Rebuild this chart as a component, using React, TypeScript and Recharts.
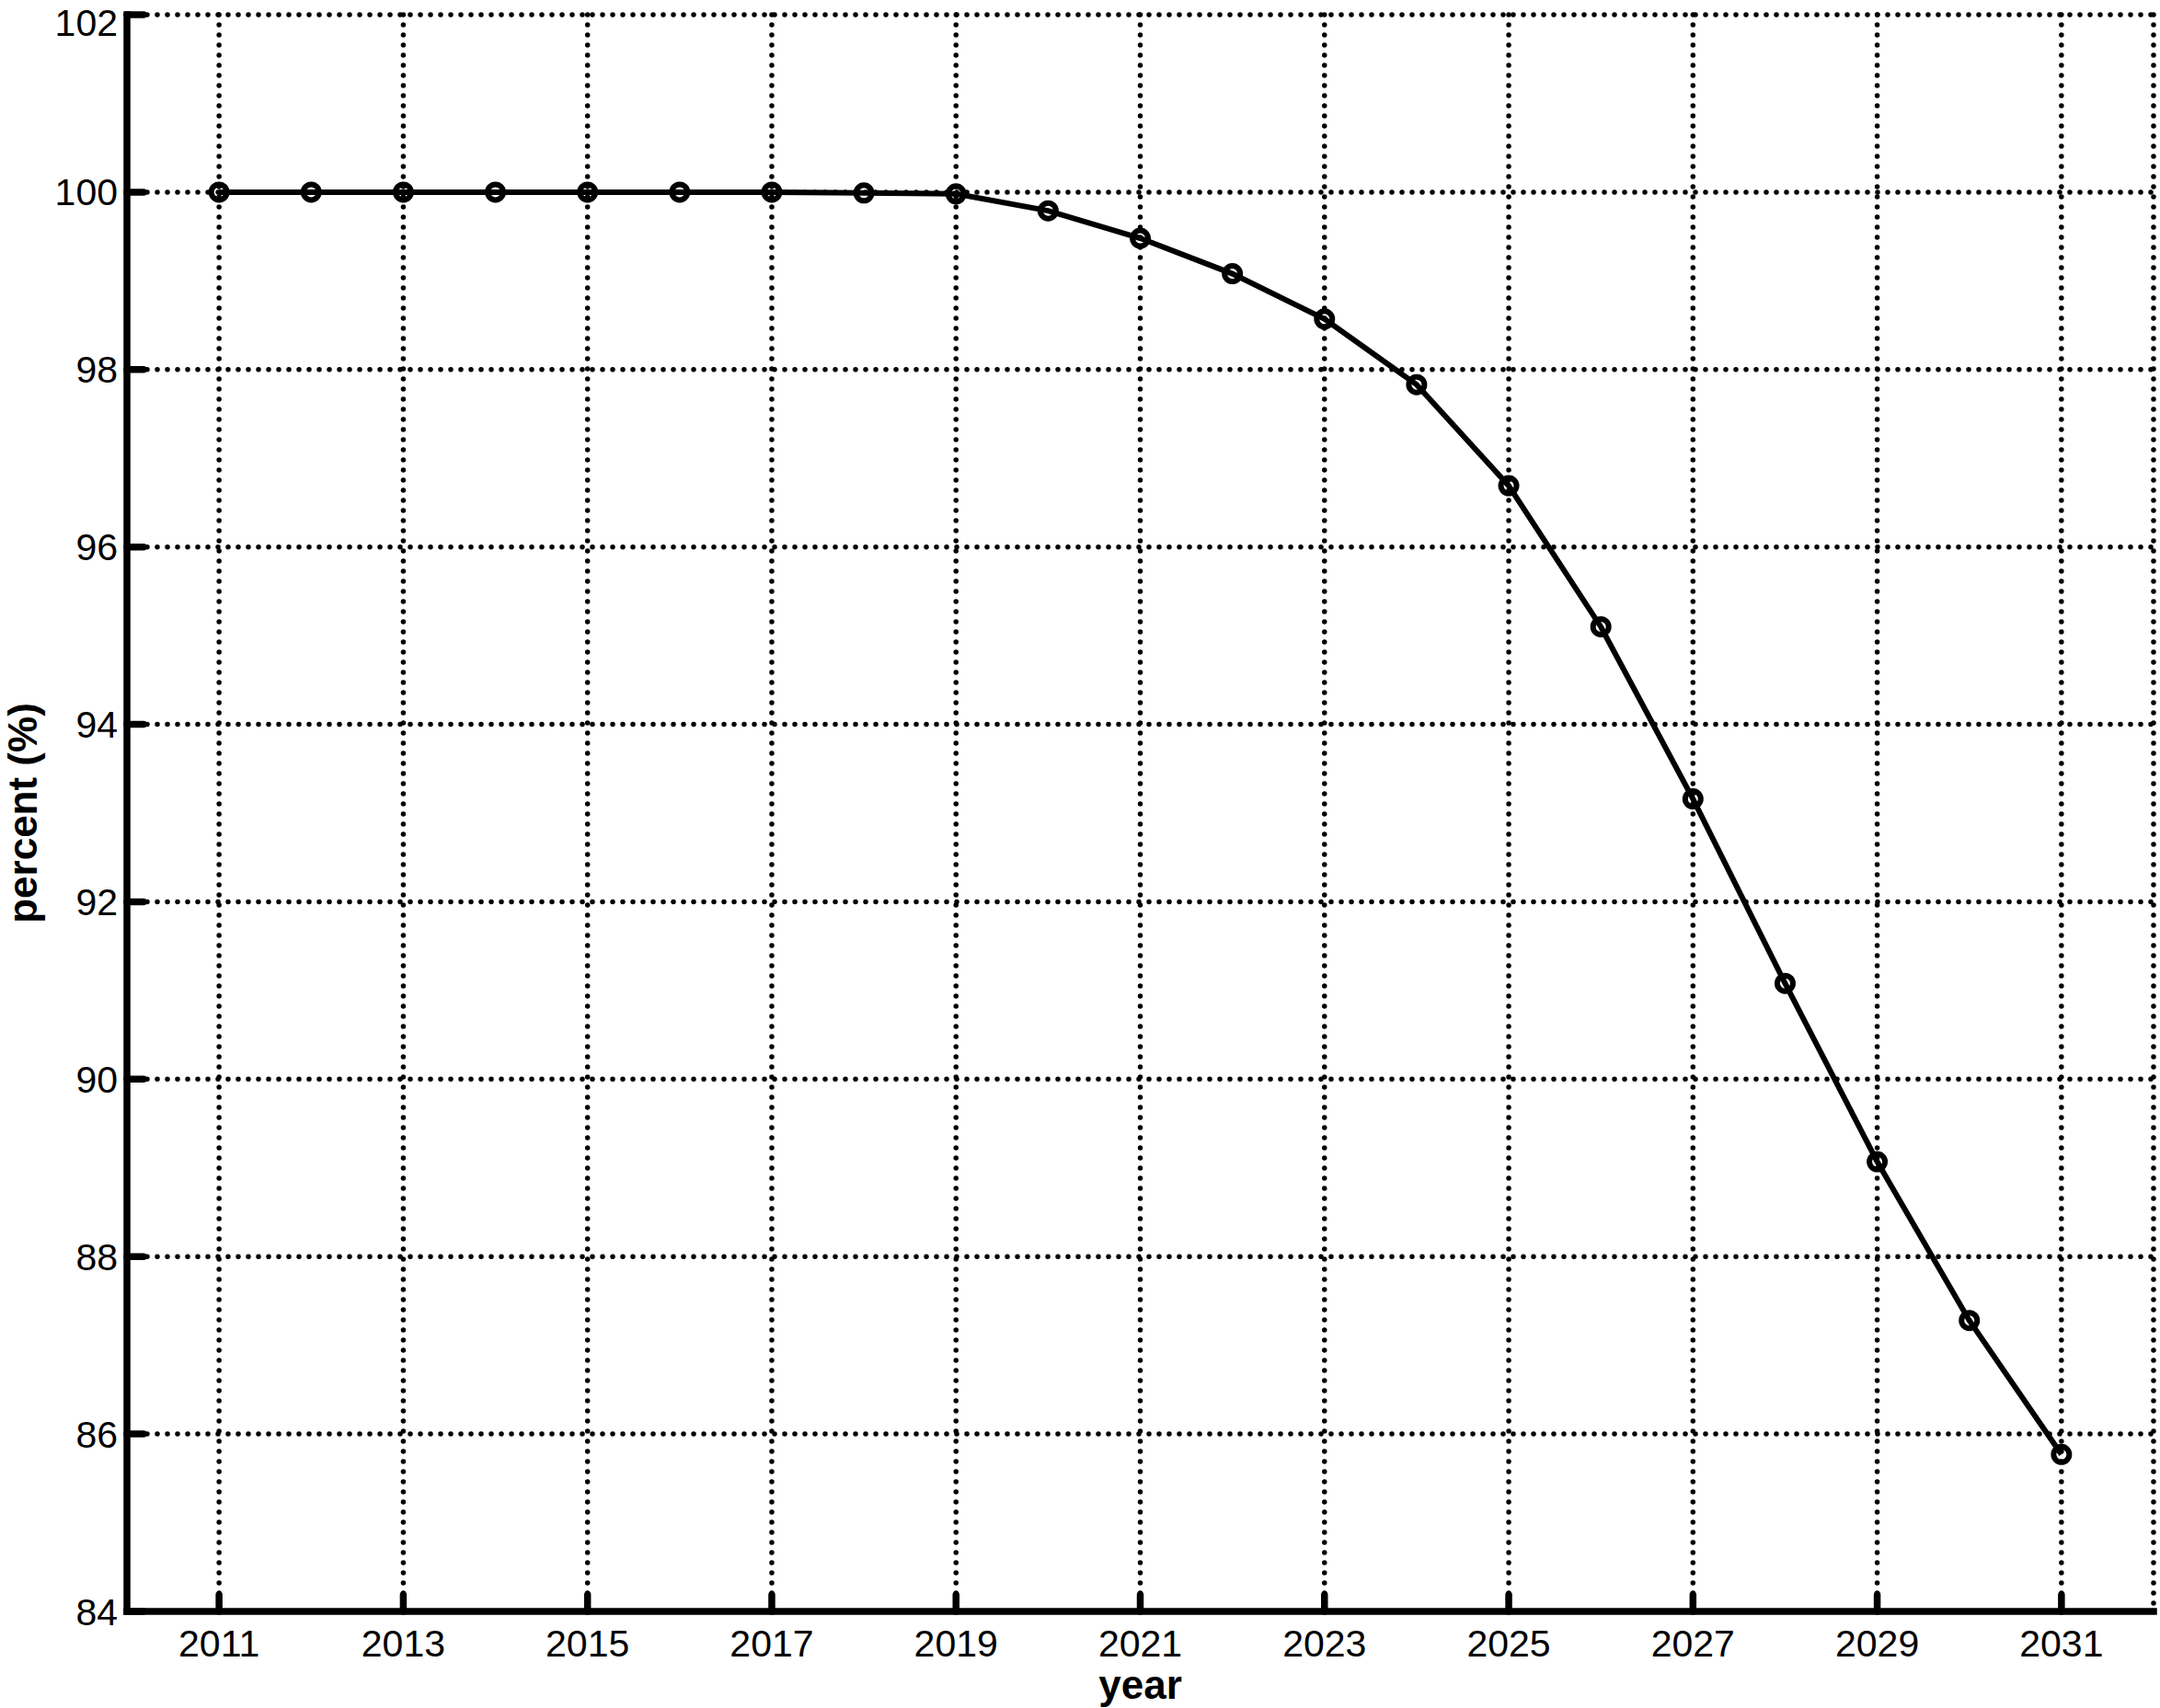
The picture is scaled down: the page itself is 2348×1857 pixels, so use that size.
import React from 'react';
import { LineChart, Line, XAxis, YAxis, CartesianGrid, Label } from 'recharts';

const years = [2011, 2012, 2013, 2014, 2015, 2016, 2017, 2018, 2019, 2020, 2021, 2022, 2023, 2024, 2025, 2026, 2027, 2028, 2029, 2030, 2031];
const percentValues = [100, 100, 100, 100, 100, 100, 100, 99.99, 99.98, 99.79, 99.48, 99.08, 98.57, 97.83, 96.69, 95.1, 93.16, 91.08, 89.07, 87.28, 85.77];
const xTicks = [2011, 2013, 2015, 2017, 2019, 2021, 2023, 2025, 2027, 2029, 2031];
const yTicks = [84, 86, 88, 90, 92, 94, 96, 98, 100, 102];

const data = years.map((y, i) => ({ year: y, percent: percentValues[i] }));

const FONT = '"Liberation Sans", Arial, Helvetica, sans-serif';
const tickStyle = { fontFamily: FONT, fontSize: 41, fill: '#000' };
const axisLineStyle = { stroke: '#000', strokeWidth: 7.5, strokeLinecap: 'square' as const };
const tickLineStyle = { stroke: '#000', strokeWidth: 7.5, strokeLinecap: 'round' as const };

export default function App() {
  return (
    <div style={{ position: 'absolute', left: 0, top: 0, background: '#fff' }}>
      <LineChart
        width={2348}
        height={1857}
        data={data}
        margin={{ top: 16, right: 7, bottom: 0, left: 0 }}
      >
        <CartesianGrid
          stroke="#000"
          strokeWidth={5.5}
          strokeDasharray="0 11"
          strokeLinecap="round"
        />
        <XAxis
          dataKey="year"
          type="number"
          domain={[2010, 2032]}
          ticks={xTicks}
          allowDataOverflow
          height={105}
          tickSize={-18}
          tickMargin={38}
          tick={tickStyle}
          axisLine={axisLineStyle}
          tickLine={tickLineStyle}
        >
          <Label
            value="year"
            position="insideBottom"
            offset={10}
            style={{ fontFamily: FONT, fontSize: 44, fontWeight: 'bold', fill: '#000' }}
          />
        </XAxis>
        <XAxis
          xAxisId="top"
          dataKey="year"
          type="number"
          orientation="top"
          domain={[2010, 2032]}
          ticks={xTicks}
          allowDataOverflow
          height={0}
          tickSize={-18}
          tick={false}
          axisLine={axisLineStyle}
          tickLine={tickLineStyle}
        />
        <YAxis
          type="number"
          domain={[84, 102]}
          ticks={yTicks}
          allowDataOverflow
          width={138}
          tickSize={-18}
          tickMargin={28}
          tick={tickStyle}
          axisLine={axisLineStyle}
          tickLine={tickLineStyle}
        >
          <Label
            value="percent (%)"
            angle={-90}
            position="insideLeft"
            offset={24}
            style={{ fontFamily: FONT, fontSize: 44, fontWeight: 'bold', fill: '#000', textAnchor: 'middle' }}
          />
        </YAxis>
        <YAxis
          yAxisId="right"
          type="number"
          orientation="right"
          domain={[84, 102]}
          ticks={yTicks}
          allowDataOverflow
          width={0}
          tickSize={-18}
          tick={false}
          axisLine={axisLineStyle}
          tickLine={tickLineStyle}
        />
        <Line
          type="linear"
          dataKey="percent"
          stroke="#000"
          strokeWidth={6}
          dot={{ r: 8.5, stroke: '#000', strokeWidth: 6, fill: 'none' }}
          isAnimationActive={false}
        />
      </LineChart>
    </div>
  );
}
